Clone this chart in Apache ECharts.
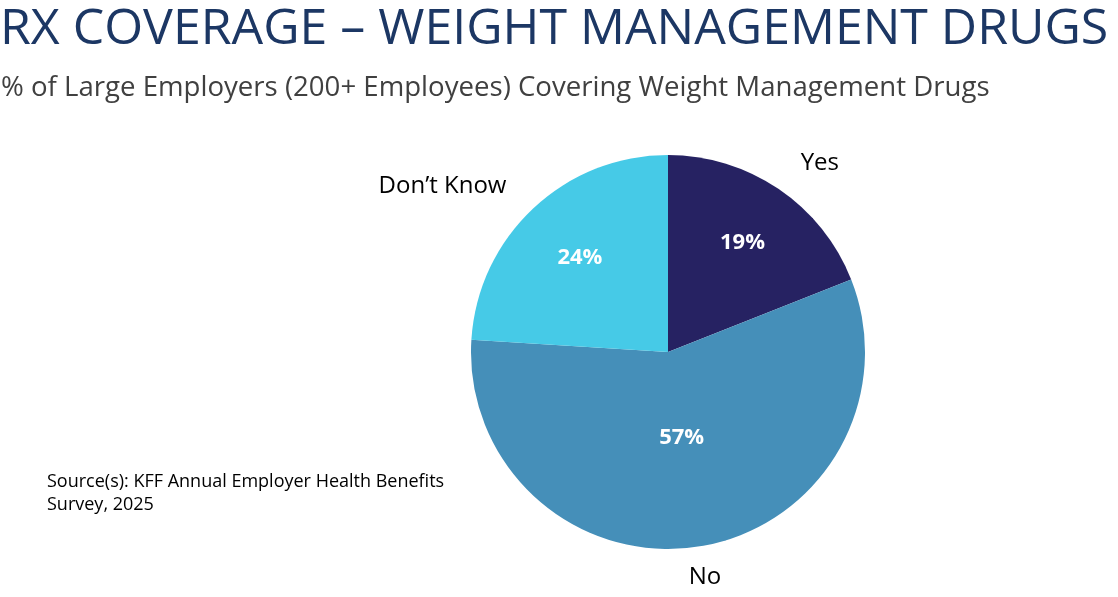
<!DOCTYPE html>
<html><head><meta charset="utf-8">
<script src="https://cdn.jsdelivr.net/npm/echarts@6/dist/echarts.min.js"></script>
<style>html,body{margin:0;padding:0;background:#fff}#c{width:1118px;height:597px}</style>
</head><body><div id="c"></div>
<script>
const categories = ['Yes', 'No', 'Don\u2019t Know'];
const values = [19, 57, 24];
const sliceColors = ['#262262', '#458fb9', '#46cae7'];
const titleText = 'RX COVERAGE \u2013 WEIGHT MANAGEMENT DRUGS';
const subtitleText = '% of Large Employers (200+ Employees) Covering Weight Management Drugs';
const sourceText = 'Source(s): KFF Annual Employer Health Benefits\nSurvey, 2025';

const CX = 668, CY = 352, R = 197;
const total = values.reduce((a, b) => a + b, 0);
function sliceAngles(i) {
  let s = 0;
  for (let k = 0; k < i; k++) s += values[k];
  const a0 = 90 - s / total * 360;
  const a1 = a0 - values[i] / total * 360;
  return { mid: (a0 + a1) / 2 * Math.PI / 180, half: Math.abs(a0 - a1) / 2 * Math.PI / 180 };
}
const data = categories.map((c, i) => ({ name: c, value: values[i], itemStyle: { color: sliceColors[i] } }));

const chart = echarts.init(document.getElementById('c'), null, { renderer: 'canvas' });
chart.setOption({
  backgroundColor: '#ffffff',
  animation: false,
  title: [
    { text: titleText, left: 0, top: 5, padding: 0, textStyle: { fontFamily: 'Open Sans', fontWeight: 400, fontSize: 50, color: '#1c3764' } },
    { text: subtitleText, left: 1, top: 74, padding: 0, textStyle: { fontFamily: 'Open Sans', fontWeight: 400, fontSize: 27.6, color: '#404040' } },
    { text: sourceText, left: 47, top: 470, padding: 0, textStyle: { fontFamily: 'Open Sans', fontWeight: 400, fontSize: 18, lineHeight: 23, color: '#000000' } }
  ],
  series: [
    {
      type: 'pie', center: [CX, CY], radius: R, startAngle: 90, clockwise: true,
      silent: true,
      data: data,
      itemStyle: { borderWidth: 0 },
      label: {
        show: true, position: 'inside', formatter: '{c}%',
        fontFamily: 'Open Sans', fontWeight: 700, fontSize: 22, color: '#ffffff'
      },
      labelLayout: function (p) {
        const g = sliceAngles(p.dataIndex);
        const centroid = 2 * R * Math.sin(g.half) / (3 * g.half);
        const d = 0.87 * centroid + 25;
        return { x: CX + Math.cos(g.mid) * d, y: CY - Math.sin(g.mid) * d, align: 'center', verticalAlign: 'middle' };
      }
    },
    {
      type: 'pie', center: [CX, CY], radius: R, startAngle: 90, clockwise: true,
      silent: true,
      data: categories.map((c, i) => ({ name: c, value: values[i] })),
      itemStyle: { color: 'rgba(0,0,0,0)', borderWidth: 0 },
      label: {
        show: true, position: 'outside', formatter: '{b}',
        fontFamily: 'Open Sans', fontWeight: 400, fontSize: 24, color: '#000000'
      },
      labelLine: { show: false },
      labelLayout: function (p) {
        const a = sliceAngles(p.dataIndex).mid;
        const nx = Math.cos(a), ny = -Math.sin(a);
        const rx = R + 39, ry = R + 31;
        const align = Math.abs(nx) < 0.35 ? 'center' : (nx > 0 ? 'left' : 'right');
        return { x: CX + nx * rx, y: CY + ny * ry, align: align, verticalAlign: 'middle' };
      }
    }
  ]
});
</script></body></html>
